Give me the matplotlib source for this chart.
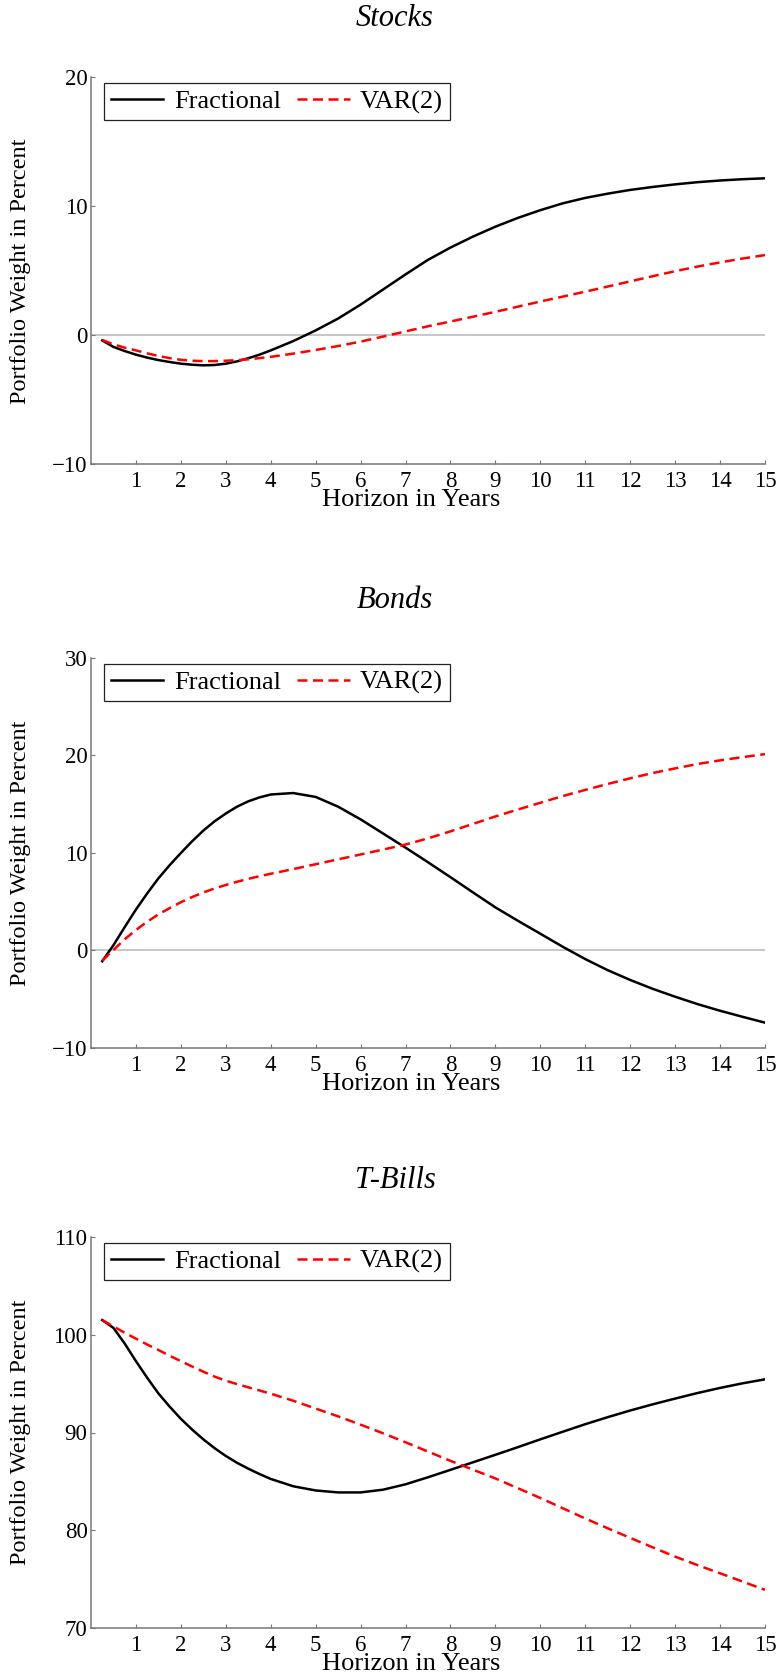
import matplotlib
matplotlib.use("Agg")
import matplotlib.pyplot as plt

plt.rcParams['font.family'] = ['Liberation Serif', 'DejaVu Serif']
plt.rcParams['axes.unicode_minus'] = True

horizon = [0.25, 0.5, 0.75, 1.0, 1.25, 1.5, 1.75, 2.0, 2.25, 2.5, 2.75, 3.0, 3.25, 3.5,
           3.75, 4.0, 4.5, 5.0, 5.5, 6.0, 6.5, 7.0, 7.5, 8.0, 8.5, 9.0, 9.5, 10.0, 10.5,
           11.0, 11.5, 12.0, 12.5, 13.0, 13.5, 14.0, 14.5, 15.0]

stocks_frac = [-0.4, -0.9, -1.22, -1.5, -1.73, -1.92, -2.07, -2.2, -2.28, -2.33, -2.3,
               -2.2, -2.02, -1.78, -1.5, -1.17,
               -0.45, 0.38, 1.3, 2.38, 3.55, 4.72, 5.85, 6.8, 7.65, 8.42, 9.1, 9.7,
               10.23, 10.65, 10.98, 11.27, 11.5, 11.7, 11.87, 12.0, 12.1, 12.17]
stocks_var = [-0.36, -0.7, -0.96, -1.17, -1.4, -1.6, -1.77, -1.9, -1.97, -2.0, -2.0,
              -1.97, -1.93, -1.86, -1.77, -1.67,
              -1.42, -1.14, -0.83, -0.49, -0.1, 0.3, 0.7, 1.07, 1.44, 1.82, 2.22, 2.62,
              3.0, 3.38, 3.78, 4.18, 4.58, 4.97, 5.33, 5.65, 5.95, 6.22]

bonds_frac = [-1.1, 0.55, 2.4, 4.2, 5.85, 7.4, 8.75, 10.0, 11.2, 12.3, 13.25, 14.05,
              14.75, 15.3, 15.7, 16.0,
              16.15, 15.75, 14.75, 13.45, 12.0, 10.55, 9.05, 7.52, 5.96, 4.42, 3.05,
              1.72, 0.38, -0.88, -2.02, -3.02, -3.93, -4.74, -5.5, -6.18, -6.8, -7.4]
bonds_var = [-1.05, 0.05, 1.15, 2.1, 2.95, 3.7, 4.35, 4.95, 5.48, 5.95, 6.36, 6.72,
             7.05, 7.35, 7.62, 7.87,
             8.35, 8.85, 9.35, 9.85, 10.35, 10.87, 11.5, 12.22, 12.98, 13.75, 14.46,
             15.15, 15.84, 16.47, 17.08, 17.66, 18.2, 18.68, 19.13, 19.5, 19.83, 20.14]

tbills_frac = [101.5, 100.7, 99.1, 97.3, 95.6, 94.0, 92.65, 91.4, 90.3, 89.3, 88.4,
               87.6, 86.9, 86.3, 85.75, 85.25,
               84.5, 84.07, 83.87, 83.87, 84.15, 84.7, 85.42, 86.18, 86.95, 87.72,
               88.5, 89.3, 90.08, 90.85, 91.57, 92.25, 92.88, 93.47, 94.04, 94.56,
               95.03, 95.44]
tbills_var = [101.5, 100.85, 100.2, 99.6, 99.0, 98.44, 97.85, 97.3, 96.75, 96.22, 95.72,
              95.3, 94.95, 94.62, 94.3, 93.97,
              93.25, 92.45, 91.65, 90.8, 89.92, 89.0, 88.05, 87.1, 86.2, 85.3, 84.3,
              83.3, 82.25, 81.2, 80.2, 79.22, 78.25, 77.3, 76.43, 75.6, 74.75, 73.9]

titles = ["Stocks", "Bonds", "T-Bills"]
ylims = [(-10, 20), (-10, 30), (70, 110)]
yticks = [[-10, 0, 10, 20], [-10, 0, 10, 20, 30], [70, 80, 90, 100, 110]]
xticks = list(range(1, 16))
series_names = ["Fractional", "VAR(2)"]
ylabel = "Portfolio Weight in Percent"
xlabel = "Horizon in Years"

W, H = 782, 1677
fig = plt.figure(figsize=(W / 100, H / 100), dpi=100)

# axes boxes in pixels: (top, bottom), title centre y
boxes = [(77.3, 464.3, 18), (658, 1048, 600), (1237, 1628, 1180)]
left_px, right_px = 91, 765
spine_col = '#777777'

data = [(stocks_frac, stocks_var), (bonds_frac, bonds_var), (tbills_frac, tbills_var)]

for i, ((top, bot, tcy), (frac, var)) in enumerate(zip(boxes, data)):
    hpx = bot - top
    ax = fig.add_axes([left_px / W, 1 - bot / H, (right_px - left_px) / W, hpx / H])
    if ylims[i][0] < 0 < ylims[i][1]:
        ax.axhline(0, color='#bdbdbd', lw=1.2, zorder=1)
    ax.plot(horizon, frac, color='black', lw=1.8, label=series_names[0], zorder=3,
            solid_joinstyle='round')
    ax.plot(horizon, var, color='#ff0000', lw=1.8, linestyle=(0, (4, 2.2)),
            label=series_names[1], zorder=3, dash_joinstyle='round')
    ax.set_xlim(0, 15)
    ax.set_ylim(*ylims[i])
    ax.set_xticks(xticks)
    ax.set_yticks(yticks[i])
    for s in ['top', 'right']:
        ax.spines[s].set_visible(False)
    for s in ['left', 'bottom']:
        ax.spines[s].set_color(spine_col)
        ax.spines[s].set_linewidth(1.1)
    ax.tick_params(axis='both', direction='in', length=3, width=0.8, color=spine_col,
                   labelsize=16.5)
    ax.tick_params(axis='x', pad=5)
    ax.tick_params(axis='y', pad=2.5)
    ax.set_xlabel(xlabel, fontsize=19, va='center')
    ax.xaxis.set_label_coords((411 - left_px) / (right_px - left_px), -36 / hpx)
    fig.text(21 / W, 1 - (top + bot) / 2 / H, ylabel, rotation=90, ha='center',
             va='center', fontsize=17.5)
    fig.text(395 / W, 1 - tcy / H, titles[i], ha='center', va='center', fontsize=22,
             style='italic')
    leg = ax.legend(loc='upper left', bbox_to_anchor=(13 / 674, 1 - 6 / hpx),
                    borderaxespad=0, ncol=2, fontsize=19, frameon=True, fancybox=False,
                    handlelength=2.0, handletextpad=0.4, columnspacing=0.6,
                    borderpad=0.25)
    fr = leg.get_frame()
    fr.set_edgecolor('#222222')
    fr.set_linewidth(0.9)
    fr.set_alpha(1)

fig.savefig("out.png", dpi=100)
